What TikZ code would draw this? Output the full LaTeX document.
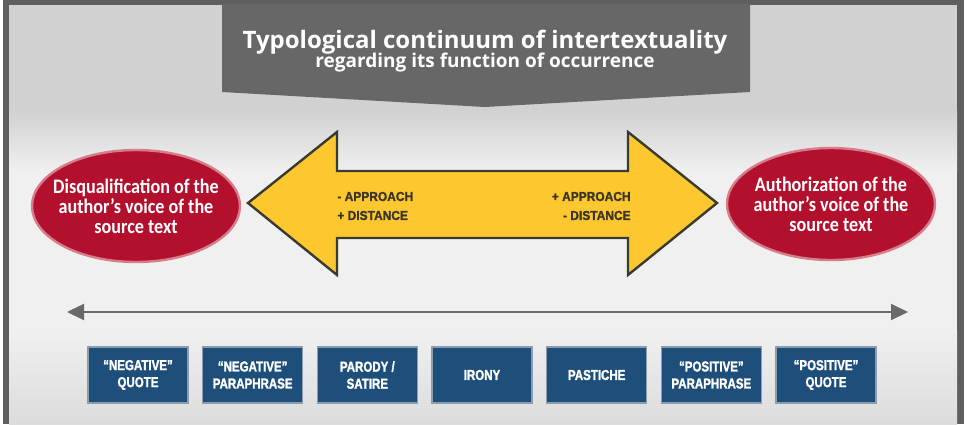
\documentclass[tikz,border=0pt]{standalone}
\usepackage{fontspec}
\setmainfont{Carlito}
\newfontfamily\titlefont{Open Sans}
\newfontfamily\ovalfont[FakeStretch=0.88]{Carlito}
\newfontfamily\boxfont[FakeStretch=0.80, BoldFeatures={FakeBold=1.6}]{Liberation Sans}
\newfontfamily\arrowfont[FakeStretch=0.92, BoldFeatures={FakeBold=1.4}]{Liberation Sans}
\usetikzlibrary{shapes.geometric,arrows.meta,positioning}

\definecolor{framegray}{HTML}{5F5F5F}
\definecolor{bannergray}{HTML}{676767}
\definecolor{bgtop}{HTML}{D1D1D1}
\definecolor{bgmid}{HTML}{F0F0F0}
\definecolor{bgbot}{HTML}{DCDCDC}
\definecolor{ovalred}{HTML}{B3102D}
\definecolor{ovalrim}{HTML}{D77C8B}
\definecolor{arrowyellow}{HTML}{FDC82F}
\definecolor{arrowrim}{HTML}{3A3A30}
\definecolor{arrowtext}{HTML}{3B3526}
\definecolor{boxblue}{HTML}{1E4F7B}
\definecolor{boxrim}{HTML}{8A9CAE}
\definecolor{linegray}{HTML}{6A6A6A}

\tikzset{
  oval/.style={draw=ovalrim, line width=1.2pt, fill=ovalred, ellipse,
    minimum width=104pt, minimum height=56pt, inner sep=0pt},
  ovaltext/.style={text=white, align=center, inner sep=0pt,
    font=\ovalfont\bfseries\fontsize{10.3}{10}\selectfont},
  bigarrow/.style={draw=arrowrim, line width=1.2pt, fill=arrowyellow, line join=miter},
  arrowlabel/.style={text=arrowtext, inner sep=0pt,
    font=\arrowfont\bfseries\fontsize{6.5}{9.5}\selectfont},
  scaleline/.style={draw=linegray, line width=1pt},
  typebox/.style={draw=boxrim, line width=0.6pt, fill=boxblue, text=white,
    align=center, minimum width=50pt, minimum height=28pt, inner sep=0pt,
    font=\boxfont\bfseries\fontsize{7.2}{8.5}\selectfont}
}

\begin{document}
\begin{tikzpicture}[x=0.5pt, y=-0.5pt, >={Triangle[length=8.5pt,width=8pt]}]
        \useasboundingbox (0,0) rectangle (975,424);
        % Background and frame
        \fill[white] (0,0) rectangle (975,424);
        \fill[framegray] (3,0) rectangle (964,424);
        \fill[bgtop] (9,5) rectangle (957,111);
        \shade[top color=bgtop, bottom color=bgmid] (9,110) rectangle (957,171);
        \fill[bgmid] (9,170) rectangle (957,331);
        \shade[top color=bgmid, bottom color=bgbot] (9,330) rectangle (957,424);

        % Title banner
        \fill[bannergray] (222,4) -- (750,4) -- (750,92) -- (485,107) -- (222,92) -- cycle;
        \node (title) [text=white, inner sep=0pt, anchor=base, font=\titlefont\bfseries\fontsize{12}{14}\selectfont] at (485,48) {Typological continuum of intertextuality};
        \node (subtitle) [text=white, inner sep=0pt, anchor=base, font=\titlefont\bfseries\fontsize{9.5}{11}\selectfont] at (485,67) {regarding its function of occurrence};

        % Ovals
        \node (disq) [oval] at (136,206) {};
        \node (disqtext) [ovaltext] at (disq) {Disqualification of the\\author’s voice of the\\source text};
        \node (auth) [oval] at (831,204) {};
        \node (authtext) [ovaltext] at (auth) {Authorization of the\\author’s voice of the\\source text};

        % Yellow double arrow
        \draw[bigarrow] (248,203) -- (337,132) -- (337,171) -- (628,171) -- (628,132) -- (717,203)
              -- (628,275) -- (628,238) -- (337,238) -- (337,275) -- cycle;
        \node (lessapp) [arrowlabel, align=left, anchor=west] at (337,206) {- APPROACH\\+ DISTANCE};
        \node (moreapp) [arrowlabel, align=right, anchor=east] at (631,206) {+ APPROACH\\- DISTANCE};

        % Scale line
        \coordinate (scaleL) at (67,312);
        \coordinate (scaleR) at (908,312);
        \draw[scaleline, <->] (scaleL) -- (scaleR);

        % Types
        \foreach \lbl [count=\i] in {{“NEGATIVE”\\QUOTE}, {“NEGATIVE”\\PARAPHRASE}, {PARODY /\\SATIRE}, {IRONY}, {PASTICHE}, {“POSITIVE”\\PARAPHRASE}, {“POSITIVE”\\QUOTE}}
            \node (type\i) [typebox] at ({138+114.67*(\i-1)},375) {\lbl};
    \end{tikzpicture}
\end{document}
